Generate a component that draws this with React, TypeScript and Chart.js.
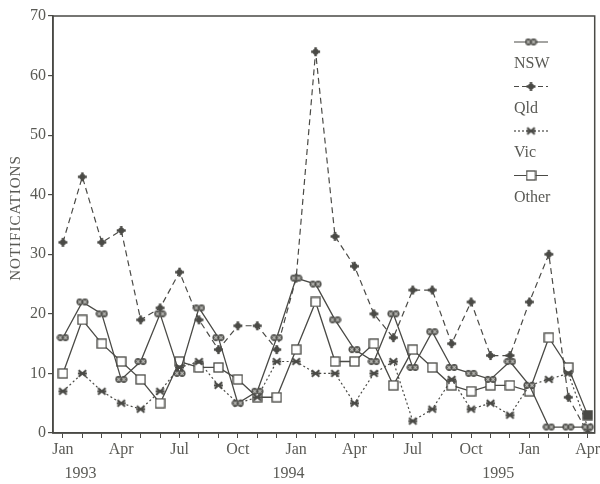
import React, { useEffect, useRef } from "react";
import { Chart, registerables } from "chart.js";

Chart.register(...registerables);

// Monthly notifications, Jan 1993 – Apr 1995
const months = [
  "Jan", "Feb", "Mar", "Apr", "May", "Jun", "Jul", "Aug", "Sep", "Oct", "Nov", "Dec",
  "Jan", "Feb", "Mar", "Apr", "May", "Jun", "Jul", "Aug", "Sep", "Oct", "Nov", "Dec",
  "Jan", "Feb", "Mar", "Apr",
];
const nsw = [16, 22, 20, 9, 12, 20, 10, 21, 16, 5, 7, 16, 26, 25, 19, 14, 12, 20, 11, 17, 11, 10, 9, 12, 8, 1, 1, 1];
const qld = [32, 43, 32, 34, 19, 21, 27, 19, 14, 18, 18, 14, 26, 64, 33, 28, 20, 16, 24, 24, 15, 22, 13, 13, 22, 30, 6, 0];
const vic = [7, 10, 7, 5, 4, 7, 11, 12, 8, 5, 6, 12, 12, 10, 10, 5, 10, 12, 2, 4, 9, 4, 5, 3, 8, 9, 10, 1];
const other = [10, 19, 15, 12, 9, 5, 12, 11, 11, 9, 6, 6, 14, 22, 12, 12, 15, 8, 14, 11, 8, 7, 8, 8, 7, 16, 11, 3];

const years = ["1993", "1994", "1995"];
const yearPositions = [0.9, 11.6, 22.4];
const seriesNames = ["NSW", "Qld", "Vic", "Other"];

const INK = "#4a4a46";
const TEXT = "#5a5a55";
const FONT = "'Liberation Serif', 'DejaVu Serif', serif";

type MarkerKind = "nsw" | "qld" | "vic" | "other";

function makeMarker(kind: MarkerKind, filled = false): HTMLCanvasElement {
  const c = document.createElement("canvas");
  const w = kind === "nsw" ? 13 : 11;
  const h = 11;
  c.width = w;
  c.height = h;
  const g = c.getContext("2d")!;
  g.strokeStyle = INK;
  g.fillStyle = INK;
  const cx = w / 2;
  const cy = h / 2;
  if (kind === "nsw") {
    g.lineWidth = 1.3;
    for (const dx of [-2.6, 2.6]) {
      g.beginPath();
      g.arc(cx + dx, cy, 2.8, 0, Math.PI * 2);
      g.fillStyle = "#6e6e6a";
      g.fill();
      g.stroke();
      g.lineWidth = 0.9;
      g.beginPath();
      g.moveTo(cx + dx - 1.8, cy - 1.8);
      g.lineTo(cx + dx + 1.8, cy + 1.8);
      g.moveTo(cx + dx + 1.8, cy - 1.8);
      g.lineTo(cx + dx - 1.8, cy + 1.8);
      g.strokeStyle = "#d8d8d4";
      g.stroke();
      g.strokeStyle = INK;
      g.lineWidth = 1.3;
    }
  } else if (kind === "qld") {
    g.beginPath();
    g.arc(cx, cy, 3, 0, Math.PI * 2);
    g.fill();
    g.fillRect(cx - 4.5, cy - 1.2, 9, 2.4);
    g.fillRect(cx - 1.2, cy - 4.5, 2.4, 9);
  } else if (kind === "vic") {
    g.lineWidth = 2;
    g.beginPath();
    g.moveTo(cx - 3.8, cy - 3.2);
    g.lineTo(cx + 3.8, cy + 3.2);
    g.moveTo(cx + 3.8, cy - 3.2);
    g.lineTo(cx - 3.8, cy + 3.2);
    g.moveTo(cx - 4.5, cy);
    g.lineTo(cx + 4.5, cy);
    g.stroke();
  } else {
    g.lineWidth = 1.3;
    g.fillStyle = filled ? INK : "#ffffff";
    g.fillRect(1, 1, 9, 9);
    g.strokeRect(1, 1, 9, 9);
  }
  return c;
}

export default function App() {
  const canvasRef = useRef<HTMLCanvasElement | null>(null);

  useEffect(() => {
    const canvas = canvasRef.current;
    if (!canvas) return;

    const markers = {
      nsw: makeMarker("nsw"),
      qld: makeMarker("qld"),
      vic: makeMarker("vic"),
      other: makeMarker("other"),
      otherFilled: makeMarker("other", true),
    };
    const legendMarkers = [markers.nsw, markers.qld, markers.vic, markers.other];
    const legendDashes = [[], [5, 3], [2, 2], []];

    const toPoints = (arr: number[]) => arr.map((v, i) => ({ x: i, y: v }));

    const framePlugin = {
      id: "frameAndLabels",
      afterDraw(chart: any) {
        const { ctx, chartArea, scales } = chart;
        ctx.save();
        // plot frame
        ctx.strokeStyle = INK;
        ctx.lineWidth = 1.5;
        ctx.strokeRect(chartArea.left, chartArea.top, chartArea.right - chartArea.left, chartArea.bottom - chartArea.top);

        // year labels under the month ticks
        ctx.fillStyle = TEXT;
        ctx.font = `16px ${FONT}`;
        ctx.textAlign = "center";
        ctx.textBaseline = "middle";
        years.forEach((y, i) => {
          ctx.fillText(y, scales.x.getPixelForValue(yearPositions[i]), 474);
        });

        // vertical axis title
        ctx.save();
        ctx.translate(16, 218);
        ctx.rotate(-Math.PI / 2);
        (ctx as any).letterSpacing = "1px";
        ctx.font = `15px ${FONT}`;
        ctx.fillText("NOTIFICATIONS", 0, 0);
        ctx.restore();

        // legend: sample line + marker, name underneath
        const lx0 = 514;
        const lx1 = 548;
        seriesNames.forEach((name, i) => {
          const y = 42 + i * 44.5;
          ctx.strokeStyle = INK;
          ctx.lineWidth = 1.2;
          ctx.setLineDash(legendDashes[i]);
          ctx.beginPath();
          ctx.moveTo(lx0, y);
          ctx.lineTo(lx1, y);
          ctx.stroke();
          ctx.setLineDash([]);
          const m = legendMarkers[i];
          ctx.drawImage(m, (lx0 + lx1) / 2 - m.width / 2, y - m.height / 2);
          ctx.fillStyle = TEXT;
          ctx.font = `16px ${FONT}`;
          ctx.textAlign = "left";
          ctx.textBaseline = "middle";
          ctx.fillText(name, lx0, y + 22);
        });
        ctx.restore();
      },
    };

    const chart = new Chart(canvas, {
      type: "line",
      data: {
        datasets: [
          {
            label: "NSW",
            data: toPoints(nsw),
            borderColor: INK,
            borderWidth: 1.3,
            pointStyle: markers.nsw as any,
            tension: 0,
          },
          {
            label: "Qld",
            data: toPoints(qld),
            borderColor: INK,
            borderWidth: 1.2,
            borderDash: [6, 4],
            pointStyle: markers.qld as any,
            tension: 0,
          },
          {
            label: "Vic",
            data: toPoints(vic),
            borderColor: INK,
            borderWidth: 1.2,
            borderDash: [2, 2.5],
            pointStyle: markers.vic as any,
            tension: 0,
          },
          {
            label: "Other",
            data: toPoints(other),
            borderColor: INK,
            borderWidth: 1.3,
            pointStyle: other.map((_, i) => (i === other.length - 1 ? markers.otherFilled : markers.other)) as any,
            tension: 0,
          },
        ],
      },
      options: {
        animation: false,
        responsive: false,
        maintainAspectRatio: false,
        layout: { padding: { top: 16, right: 3, left: 0, bottom: 0 } },
        plugins: {
          legend: { display: false },
          tooltip: { enabled: false },
        },
        scales: {
          x: {
            type: "linear",
            min: -0.51,
            max: 27.36,
            afterBuildTicks(scale: any) {
              scale.ticks = months.map((_, i) => ({ value: i }));
            },
            afterFit(scale: any) {
              scale.height = 51;
              scale.paddingLeft = 0;
              scale.paddingRight = 0;
            },
            ticks: {
              autoSkip: false,
              maxRotation: 0,
              padding: 2,
              color: TEXT,
              font: { family: FONT, size: 16 },
              callback: (value: any) => {
                const i = Math.round(Number(value));
                return i % 3 === 0 ? months[i] : "";
              },
            },
            grid: { drawOnChartArea: false, drawTicks: true, tickLength: 5, color: INK, lineWidth: 1 },
            border: { display: true, color: INK, width: 1.5 },
          },
          y: {
            min: 0,
            max: 70,
            afterFit(scale: any) {
              scale.width = 53;
              scale.paddingTop = 0;
              scale.paddingBottom = 0;
            },
            ticks: {
              stepSize: 10,
              padding: 2,
              color: TEXT,
              font: { family: FONT, size: 16 },
            },
            grid: { drawOnChartArea: false, drawTicks: true, tickLength: 5, color: INK, lineWidth: 1.2 },
            border: { display: true, color: INK, width: 1.5 },
          },
        },
      },
      plugins: [framePlugin],
    });

    return () => chart.destroy();
  }, []);

  return (
    <div style={{ position: "absolute", left: 0, top: 0, width: 600, height: 484, background: "#ffffff" }}>
      <canvas ref={canvasRef} width={600} height={484} style={{ width: 600, height: 484 }} />
    </div>
  );
}
